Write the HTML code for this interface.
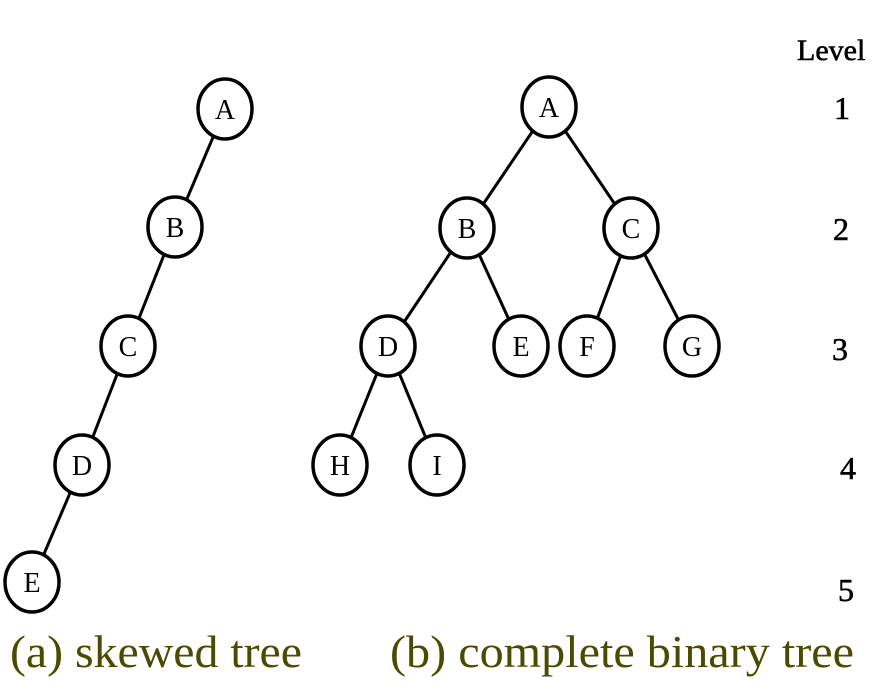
<!DOCTYPE html>
<html><head><style>
html,body{margin:0;padding:0;background:#fff;}
svg{display:block}
.n{fill:#fff;stroke:#000;stroke-width:3.5}
.l{stroke:#000;stroke-width:3}
.t{font-family:"Liberation Serif",serif;font-size:28px;text-anchor:middle;fill:#000}
.v{font-family:"Liberation Serif",serif;font-size:32px;fill:#000;stroke:#000;stroke-width:0.6}
.c{font-family:"Liberation Serif",serif;font-size:46px;fill:#4a4a00}
</style></head><body>
<svg width="876" height="685" viewBox="0 0 876 685">
<g>
<line class="l" x1="225" y1="109" x2="175" y2="227"/>
<line class="l" x1="175" y1="227" x2="128" y2="346"/>
<line class="l" x1="128" y1="346" x2="82" y2="465"/>
<line class="l" x1="82" y1="465" x2="32" y2="582"/>
<line class="l" x1="549" y1="107" x2="467" y2="228"/>
<line class="l" x1="549" y1="107" x2="631" y2="228"/>
<line class="l" x1="467" y1="228" x2="388" y2="346"/>
<line class="l" x1="467" y1="228" x2="521" y2="346"/>
<line class="l" x1="631" y1="228" x2="587" y2="346"/>
<line class="l" x1="631" y1="228" x2="692" y2="346"/>
<line class="l" x1="388" y1="346" x2="340" y2="465"/>
<line class="l" x1="388" y1="346" x2="437" y2="465"/>
</g>
<g>
<ellipse class="n" cx="225" cy="109" rx="27" ry="30"/><text class="t" x="225" y="119">A</text>
<ellipse class="n" cx="175" cy="227" rx="27" ry="30"/><text class="t" x="175" y="237">B</text>
<ellipse class="n" cx="128" cy="346" rx="27" ry="30"/><text class="t" x="128" y="356">C</text>
<ellipse class="n" cx="82" cy="465" rx="27" ry="30"/><text class="t" x="82" y="475">D</text>
<ellipse class="n" cx="32" cy="582" rx="27" ry="30"/><text class="t" x="32" y="592">E</text>

<ellipse class="n" cx="549" cy="107" rx="27" ry="30"/><text class="t" x="549" y="117">A</text>
<ellipse class="n" cx="467" cy="228" rx="27" ry="30"/><text class="t" x="467" y="238">B</text>
<ellipse class="n" cx="631" cy="228" rx="27" ry="30"/><text class="t" x="631" y="238">C</text>
<ellipse class="n" cx="388" cy="346" rx="27" ry="30"/><text class="t" x="388" y="356">D</text>
<ellipse class="n" cx="521" cy="346" rx="27" ry="30"/><text class="t" x="521" y="356">E</text>
<ellipse class="n" cx="587" cy="346" rx="27" ry="30"/><text class="t" x="587" y="356">F</text>
<ellipse class="n" cx="692" cy="346" rx="27" ry="30"/><text class="t" x="692" y="356">G</text>
<ellipse class="n" cx="340" cy="465" rx="27" ry="30"/><text class="t" x="340" y="475">H</text>
<ellipse class="n" cx="437" cy="465" rx="27" ry="30"/><text class="t" x="437" y="475">I</text>
</g>
<text class="v" x="797" y="60" style="font-size:30px">Level</text>
<text class="v" x="834" y="119">1</text>
<text class="v" x="833" y="240">2</text>
<text class="v" x="832" y="360">3</text>
<text class="v" x="840" y="479">4</text>
<text class="v" x="838" y="601">5</text>
<text class="c" x="10" y="667" textLength="292" lengthAdjust="spacingAndGlyphs">(a) skewed tree</text>
<text class="c" x="390" y="667" textLength="464" lengthAdjust="spacingAndGlyphs">(b) complete binary tree</text>
</svg>
</body></html>
